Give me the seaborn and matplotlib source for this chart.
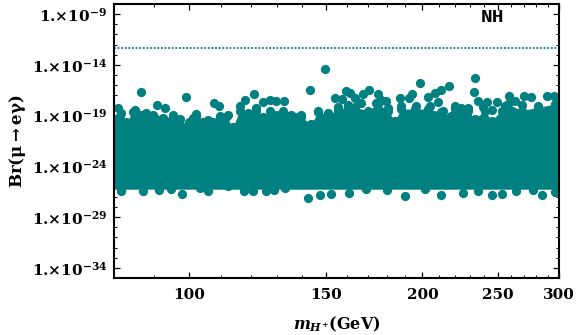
#Br(mu -> e gamma) vs charged Higgs mass, NH
import numpy as np
import pandas as pd
import seaborn as sns
import matplotlib.pyplot as plt
from matplotlib.ticker import FixedLocator, FixedFormatter, NullFormatter

# points on the upper edge of the cloud and the outliers: mass in GeV, log10(Br)
top_mass = [86.6, 99.0, 90.8, 93.2, 107.6, 109.3, 118.1, 121.2, 127.1, 124.6, 132.4, 129.6, 116.2, 80.9,
            85.2, 95.3, 102.2, 97.2, 101.2, 92.5, 109.5, 112.2, 122.1, 105.8, 81.7, 88.0, 89.8,
            149.9, 143.0, 198.5, 216.4, 233.8, 233.1, 211.5, 207.4, 203.3, 193.9, 191.9, 187.1, 170.4,
            167.6, 175.2, 159.5, 161.4, 154.2, 157.4, 163.5, 179.6, 176.9, 160.3, 155.6, 146.6, 151.0,
            139.5, 135.4, 166.7, 174.4, 187.9, 196.4, 204.3, 209.4, 220.1, 224.5, 229.0, 235.9, 242.3,
            249.6, 258.5, 263.6, 270.5, 275.9, 289.7, 295.5, 282.1, 239.4, 245.5, 255.4, 268.4, 180.5, 212.5]
top_log = [-16.71, -17.14, -17.92, -18.28, -17.76, -18.08, -17.43, -16.91, -17.43, -17.69, -17.53, -17.59, -18.08, -18.25,
           -18.41, -18.97, -18.80, -19.33, -19.23, -19.23, -19.07, -18.90, -18.25, -19.46, -18.74, -18.74, -18.90,
           -14.39, -16.45, -15.76, -16.06, -15.27, -16.65, -16.52, -16.78, -17.20, -16.84, -17.30, -17.24, -16.45,
           -16.84, -16.84, -16.55, -16.78, -17.24, -17.37, -17.27, -17.59, -17.43, -17.92, -18.15, -18.58, -18.74,
           -18.90, -18.90, -17.76, -17.76, -18.08, -18.08, -18.08, -17.69, -18.08, -18.25, -18.25, -17.53, -17.66,
           -17.66, -17.04, -17.59, -17.04, -17.17, -17.10, -17.10, -18.02, -18.15, -18.41, -18.08, -17.92, -18.25, -18.58]

# upper contour of the solid part of the cloud
ridge_mass = [80.0, 81.4, 82.9, 84.6, 86.7, 88.5, 90.7, 93.4, 95.3, 97.7, 100.1, 102.2, 104.2, 107.3, 109.5, 111.7,
              113.9, 116.2, 119.1, 122.1, 124.6, 127.1, 132.2, 134.1, 136.8, 139.5, 143.7, 146.6, 151.0, 155.6,
              160.3, 163.5, 170.1, 175.2, 180.5, 184.1, 187.9, 195.4, 203.3, 211.5, 217.9, 220.1, 229.0, 233.5,
              240.6, 245.5, 252.9, 258.0, 268.4, 282.1, 296.3, 300.0]
ridge_log = [-19.33, -19.00, -19.65, -18.67, -18.90, -19.00, -19.33, -19.49, -19.33, -19.98, -19.65, -19.16, -19.65, -19.65, -19.33, -19.16,
             -20.14, -18.51, -18.74, -18.51, -19.16, -18.51, -18.51, -19.00, -19.16, -19.16, -19.82, -18.67, -18.84, -18.51,
             -18.02, -18.18, -18.51, -17.86, -18.51, -19.49, -18.35, -18.35, -18.35, -18.67, -19.00, -18.35, -18.51, -19.33,
             -18.51, -19.49, -18.51, -17.86, -18.51, -18.18, -17.86, -17.90]

# points on the lower edge
low_mass = [81.7, 87.2, 91.4, 94.8, 97.8, 105.8, 103.2, 112.2, 117.7, 120.9, 125.8, 128.6, 132.8,
            142.3, 147.3, 152.5, 160.6, 169.2, 180.0, 189.7, 201.3, 211.5, 225.6, 235.9, 245.9,
            252.9, 264.4, 277.8, 285.4, 296.3]
low_log = [-26.42, -26.42, -26.32, -26.25, -26.75, -26.42, -26.09, -25.93, -26.42, -26.42, -26.42, -26.32, -26.09,
           -27.07, -26.81, -26.75, -26.65, -26.25, -26.32, -26.88, -26.25, -26.81, -26.65, -26.42, -26.81,
           -26.75, -26.42, -26.32, -26.81, -26.52]

core_floor = -26.25  # lower side of the solid part

limit = 4.2e-13  # dotted line

x_major = [100, 150, 200, 250, 300]
x_labels = ['100', '150', '200', '250', '300']
x_minor = [90, 110, 120, 130, 140, 160, 170, 180, 190, 210, 220, 230, 240, 260, 270, 280, 290]
y_major = [1e-34, 1e-29, 1e-24, 1e-19, 1e-14, 1e-9]
y_labels = [r'1.$\times$10$^{-34}$', r'1.$\times$10$^{-29}$', r'1.$\times$10$^{-24}$',
            r'1.$\times$10$^{-19}$', r'1.$\times$10$^{-14}$', r'1.$\times$10$^{-9}$']
y_minor = [10.0**e for e in range(-35, -8) if (e + 34) % 5 != 0]

sns.set_theme(style='ticks')
plt.rcParams['font.family'] = 'DejaVu Serif'
plt.rcParams['font.weight'] = 'bold'
plt.rcParams['mathtext.fontset'] = 'dejavuserif'
plt.rcParams['mathtext.default'] = 'bf'

teal = '#008080'
df = pd.DataFrame({'mass': top_mass + ridge_mass + low_mass,
                   'br': 10.0 ** np.array(top_log + ridge_log + low_log)})

fig, ax = plt.subplots(figsize=(5.76, 3.35), dpi=100)
fig.subplots_adjust(left=114 / 576, right=559 / 576, top=1 - 4 / 335, bottom=1 - 278 / 335)

ax.fill_between(ridge_mass, 10.0 ** core_floor, 10.0 ** np.array(ridge_log), color=teal, lw=0)
sns.scatterplot(data=df, x='mass', y='br', color=teal, s=44, linewidth=0, ax=ax)
ax.axhline(limit, color=teal, ls=(0, (1, 1)), lw=1.3)

ax.set_xscale('log')
ax.set_yscale('log')
ax.set_xlim(80, 300)
ax.set_ylim(1e-35, 1e-8)

ax.xaxis.set_major_locator(FixedLocator(x_major))
ax.xaxis.set_major_formatter(FixedFormatter(x_labels))
ax.xaxis.set_minor_locator(FixedLocator(x_minor))
ax.xaxis.set_minor_formatter(NullFormatter())
ax.yaxis.set_major_locator(FixedLocator(y_major))
ax.yaxis.set_major_formatter(FixedFormatter(y_labels))
ax.yaxis.set_minor_locator(FixedLocator(y_minor))
ax.yaxis.set_minor_formatter(NullFormatter())

ax.tick_params(which='major', direction='in', top=True, right=True, length=4, width=0.9, labelsize=11, pad=5, color='black', labelcolor='black')
ax.tick_params(axis='x', which='major', pad=7)
ax.tick_params(which='minor', direction='in', top=True, right=True, length=2, width=0.7, color='black')
for s in ax.spines.values():
    s.set_linewidth(1.5)
    s.set_color('black')

ax.set_xlabel(r'$\mathit{m}_{\mathit{H}^{+}}$(GeV)', fontsize=11.5, fontweight='bold', labelpad=9, color='black')
ax.set_ylabel(r'Br($\mu\rightarrow$e$\gamma$)', fontsize=12, fontweight='bold', labelpad=3, color='black')
ax.text(493, 335 - 18, 'NH', transform=None, family='Liberation Mono', fontweight='bold', fontsize=14, ha='center', va='center', color='black')

plt.savefig('out.png', dpi=100)
